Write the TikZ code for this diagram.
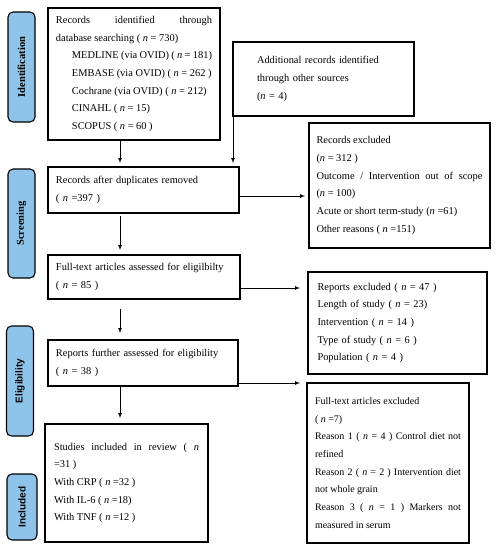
\documentclass[tikz,border=0pt]{standalone}
\usepackage{fontspec}
\setmainfont{Liberation Serif}
\newfontfamily\labelsans{Liberation Sans}
\usepackage{tikz}
\usetikzlibrary{arrows}

\definecolor{phaseblue}{RGB}{143,196,234}
\def\nn{\textit{n}}

\begin{document}
\begin{tikzpicture}[x=1pt,y=-1pt,>=latex,
	flowbox/.style={rectangle, draw, line width=1.1pt, anchor=north west, outer sep=0pt,
		inner xsep=0pt, font=\fontsize{10.4}{17.7}\selectfont},
	phase/.style={rectangle, rounded corners=5pt, draw, line width=1.1pt, fill=phaseblue,
		rotate=90, minimum height=27pt, font=\bfseries\fontsize{10.5}{12}\selectfont},
	flow/.style={->, line width=0.7pt}]

	\useasboundingbox (0,0) rectangle (496,550);

	% phases on the left
	\node[phase, minimum width=110pt] (ident) at (21.5,67) {Identification};
	\node[phase, minimum width=109pt] (screen) at (21.5,223.5) {Screening};
	\node[phase, minimum width=110pt, font=\labelsans\bfseries\fontsize{10}{12}\selectfont] (elig) at (20,381) {Eligibility};
	\node[phase, minimum width=66pt, minimum height=30pt, font=\labelsans\bfseries\fontsize{10}{12}\selectfont] (incl) at (22,507) {Included};

	% main column
	\node[flowbox, minimum width=172pt, minimum height=132pt, text width=156pt, align=justify] (db) at (48,8)
	{Records identified through\linebreak database searching ( \nn{} = 730)\\
	\hspace*{16pt}MEDLINE (via OVID) ( \nn{} = 181)\\
	\hspace*{16pt}EMBASE (via OVID) ( \nn{} = 262 )\\
	\hspace*{16pt}Cochrane (via OVID) ( \nn{} = 212)\\
	\hspace*{16pt}CINAHL ( \nn{} = 15)\\
	\hspace*{16pt}SCOPUS ( \nn{} = 60 )};

	\node[flowbox, minimum width=181pt, minimum height=74pt, text width=133pt, align=left] (extra) at (233,42)
	{Additional records identified\\ through other sources\\ (\nn{} = 4)};

	\node[flowbox, minimum width=191pt, minimum height=46pt, text width=175pt, align=left] (dedup) at (48,167)
	{Records after duplicates removed\\ ( \nn{} =397 )};

	\node[flowbox, minimum width=192pt, minimum height=44pt, text width=176pt, align=left] (fulltext) at (48,255)
	{Full-text articles assessed for eligilbilty\\ ( \nn{} = 85 )};

	\node[flowbox, minimum width=190pt, minimum height=46pt, text width=174pt, align=left] (further) at (48,340)
	{Reports further assessed for eligibility\\ ( \nn{} = 38 )};

	\node[flowbox, minimum width=163pt, minimum height=118pt, text width=145pt, align=justify] (included) at (45,424)
	{Studies included in review ( \nn\linebreak =31 )\\
	With CRP ( \nn{} =32 )\\
	With IL-6 ( \nn{} =18)\\
	With TNF ( \nn{} =12 )};

	% exclusions on the right
	\node[flowbox, minimum width=181pt, minimum height=125pt, text width=166pt, align=justify] (recexcl) at (309,123)
	{Records excluded\\
	(\nn{} = 312 )\\
	Outcome / Intervention out of scope\linebreak (\nn{} = 100)\\
	Acute or short term-study (\nn{} =61)\\
	Other reasons ( \nn{} =151)};

	\node[flowbox, minimum width=179pt, minimum height=102pt, text width=160pt, align=left] (repexcl) at (308,272)
	{Reports excluded ( \nn{} = 47 )\\
	Length of study ( \nn{} = 23)\\
	Intervention ( \nn{} = 14 )\\
	Type of study ( \nn{} = 6 )\\
	Population ( \nn{} = 4 )};

	\node[flowbox, minimum width=162pt, minimum height=160pt, text width=146pt, align=justify,
		font=\fontsize{10}{17.7}\selectfont] (ftexcl) at (307,383)
	{Full-text articles excluded\\
	( \nn{} =7)\\
	Reason 1 ( \nn{} = 4 ) Control diet not\linebreak refined\\
	Reason 2 ( \nn{} = 2 ) Intervention diet\linebreak not whole grain\\
	Reason 3 ( \nn{} = 1 ) Markers not\linebreak measured in serum};

	% arrows
	\coordinate (col) at (120,0);
	\draw[flow, shorten >=4pt] (db.south -| col) -- (dedup.north -| col);
	\draw[flow, shorten >=4pt] (extra.south west) -- (extra.south west |- dedup.north);
	\draw[flow, shorten <=3pt, shorten >=5pt] (dedup.south -| col) -- (fulltext.north -| col);
	\draw[flow, shorten <=10pt, shorten >=7pt] (fulltext.south -| col) -- (further.north -| col);
	\draw[flow, shorten >=6pt] (further.south -| col) -- (included.north -| col);

	\draw[flow, shorten >=4pt] ([yshift=-6pt]dedup.east) -- ([yshift=-6pt]dedup.east -| recexcl.west);
	\draw[flow, shorten >=8pt] ([yshift=-11pt]fulltext.east) -- ([yshift=-11pt]fulltext.east -| repexcl.west);
	\draw[flow, shorten >=7pt] ([yshift=-20pt]further.east) -- ([yshift=-20pt]further.east -| ftexcl.west);
\end{tikzpicture}
\end{document}
